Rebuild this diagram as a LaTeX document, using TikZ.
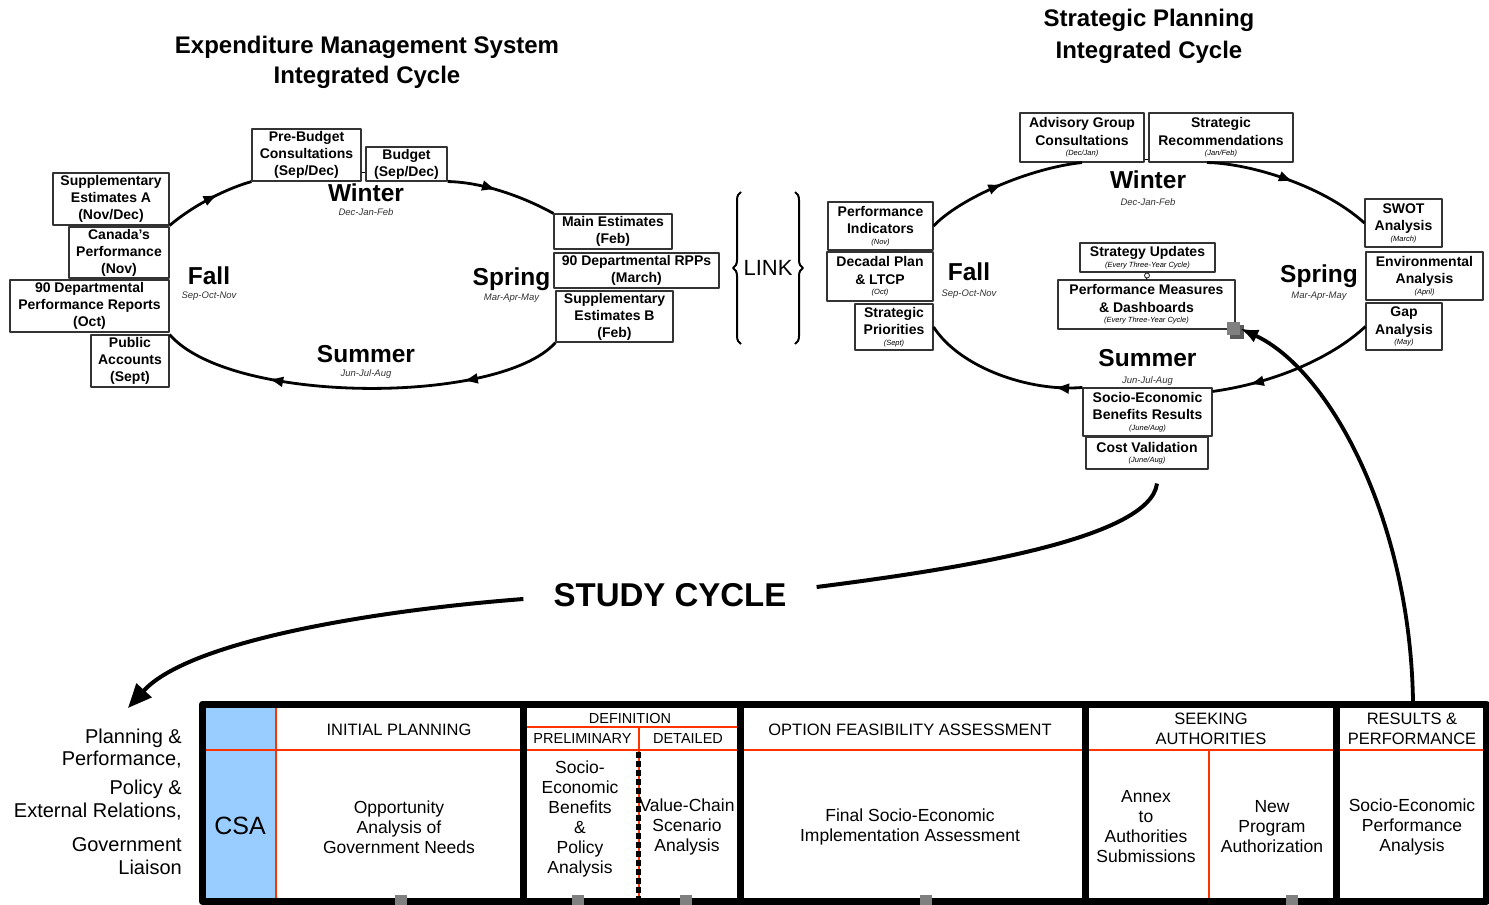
\documentclass[tikz,border=0pt]{standalone}
\usepackage{fontspec}
\setmainfont{Liberation Sans}
\usetikzlibrary{arrows.meta,decorations.markings,decorations.pathreplacing}
\definecolor{redln}{RGB}{255,51,0}
\definecolor{csablue}{RGB}{153,204,255}
\definecolor{sqgray}{RGB}{128,128,128}
\definecolor{sqdark}{RGB}{90,90,90}
\newcommand{\fsz}[2]{\fontsize{#1}{#2}\selectfont}
\newcommand{\smit}[1]{{\fsz{7.5}{8}\itshape\mdseries #1}}
\begin{document}
\begin{tikzpicture}[x=1pt,y=-1pt,line join=round,
  bx/.style={draw=black!80,line width=1.1pt,fill=white,align=center,inner sep=0pt,font=\bfseries\fsz{14}{17}},
  rbx/.style={bx,font=\bfseries\fsz{14}{17.5}},
  wh/.style 2 args={minimum width=#1pt,minimum height=#2pt},
  season/.style={anchor=base,font=\bfseries\fsz{24.5}{26}},
  months/.style={anchor=base,font=\itshape\fsz{9.5}{10},text=black!80},
  ttl/.style={font=\bfseries\fsz{24}{30},align=center},
  cyc/.style={line width=2.8pt},
  arr/.style={decoration={markings,mark=at position #1 with {\arrow{Latex[length=15pt,width=11pt]}}},postaction={decorate}},
  arrtwo/.style 2 args={decoration={markings,mark=at position #1 with {\arrow{Latex[length=15pt,width=11pt]}},mark=at position #2 with {\arrow{Latex[length=15pt,width=11pt]}}},postaction={decorate}},
  hd/.style={align=center,inner sep=0pt,font=\fsz{16.5}{20}},
  hds/.style={align=center,inner sep=0pt,font=\fsz{14.5}{16}},
  bd/.style={align=center,inner sep=0pt,font=\fsz{17.5}{20}},
  side/.style={anchor=east,align=right,inner sep=0pt,font=\fsz{20}{22.5}},
  tabsep/.style={line width=7pt},
  redl/.style={draw=redln,line width=2pt},
  bigline/.style={line width=4pt},
]
\useasboundingbox (0,0) rectangle (1489,905);

% ---------- titles
\node[ttl] (t1) at (367,62) {Expenditure Management System\\Integrated Cycle};
\node[ttl,font=\bfseries\fsz{24}{32}] (t2) at (1149,36) {Strategic Planning\\Integrated Cycle};

% ---------- left cycle boxes
\node[bx,wh={109}{52}] (prebud) at (306.5,155) {Pre-Budget\\Consultations\\(Sep/Dec)};
\node[bx,wh={81}{34}] (budget) at (406.5,164) {Budget\\(Sep/Dec)};
\node[bx,wh={116}{52}] (supA) at (111,199) {Supplementary\\Estimates A\\(Nov/Dec)};
\node[bx,wh={100}{51}] (canada) at (119,252.5) {Canada's\\Performance\\(Nov)};
\node[bx,wh={159}{52}] (dpr) at (89.5,306) {90 Departmental\\Performance Reports\\(Oct)};
\node[bx,wh={78}{52}] (pubacc) at (130,361) {Public\\Accounts\\(Sept)};
\node[bx,wh={118}{35}] (mainest) at (613,231.5) {Main Estimates\\(Feb)};
\node[bx,wh={165}{35}] (rpp) at (636.5,270.5) {90 Departmental RPPs\\(March)};
\node[bx,wh={117}{51}] (supB) at (614.5,316.5) {Supplementary\\Estimates B\\(Feb)};

% ---------- right cycle boxes
\node[rbx,wh={124}{49}] (adv) at (1082,137.5) {Advisory Group\\Consultations\\[-7pt]\smit{(Dec/Jan)}};
\node[rbx,wh={144}{49}] (strec) at (1221,137.5) {Strategic\\Recommendations\\[-7pt]\smit{(Jan/Feb)}};
\node[rbx,wh={105}{48}] (perfind) at (880.5,226) {Performance\\Indicators\\[-7pt]\smit{(Nov)}};
\node[rbx,wh={106}{49}] (decadal) at (880,276.5) {Decadal Plan\\\& LTCP\\[-7pt]\smit{(Oct)}};
\node[rbx,wh={78}{46}] (stpri) at (894,327) {Strategic\\Priorities\\[-7pt]\smit{(Sept)}};
\node[rbx,wh={77}{48}] (swot) at (1403.5,223) {SWOT\\Analysis\\[-7pt]\smit{(March)}};
\node[rbx,wh={117}{48}] (env) at (1424.5,276) {Environmental\\Analysis\\[-7pt]\smit{(April)}};
\node[rbx,wh={76}{47}] (gap) at (1404,326.5) {Gap\\Analysis\\[-7pt]\smit{(May)}};
\node[rbx,wh={135}{29}] (stup) at (1147.5,257.5) {Strategy Updates\\[-7pt]\smit{(Every Three-Year Cycle)}};
\node[rbx,wh={177}{49}] (pm) at (1146.5,304.5) {Performance Measures\\\& Dashboards\\[-7pt]\smit{(Every Three-Year Cycle)}};
\node[rbx,wh={129}{48}] (seb) at (1147.5,412) {Socio-Economic\\Benefits Results\\[-7pt]\smit{(June/Aug)}};
\node[rbx,wh={122}{32}] (cv) at (1147,453) {Cost Validation\\[-7pt]\smit{(June/Aug)}};

% ---------- cycle arcs
\draw[cyc,arr=0.62] (supA.south east) .. controls (190,208) and (222,190) .. (prebud.south west);
\draw[cyc,arr=0.45] (budget.south east) .. controls (480,182) and (520,195) .. (mainest.north west);
\draw[cyc,arrtwo={0.25}{0.73}] (supB.south west) .. controls (500,405) and (230,405) .. (pubacc.north east);

\draw[cyc,arr=0.5] (perfind.east) .. controls (960,198) and (1030,168) .. (adv.south);
\draw[cyc,arr=0.52] ([xshift=-14pt]strec.south) .. controls (1245,163) and (1320,183) .. (swot.west);
\draw[cyc,arr=0.78] (gap.west) .. controls (1335,355) and (1280,382) .. ([yshift=-4pt]seb.north east);
\draw[cyc,arr=0.17] (seb.north west) .. controls (1030,392) and (960,368) .. (stpri.east);

% ---------- small connectors
\path (prebud.east) ++(0,17) coordinate (pbc);
\draw[line width=1pt] (pbc) -- (pbc -| budget.west);
\path (adv.east) ++(0,22) coordinate (avc);
\draw[line width=1pt] (avc) -- (avc -| strec.west);
\draw[line width=1pt] (stup.south) -- (pm.north);
\node[circle,draw=black!80,fill=white,inner sep=0pt,minimum size=5pt,line width=0.9pt] (ring) at (1147,275.5) {};

% ---------- season labels
\node[season] (lwin) at (366,201) {Winter};
\node[months] (lwinm) at (366,215) {Dec-Jan-Feb};
\node[season] (lfall) at (209,284) {Fall};
\node[months] (lfallm) at (209,298) {Sep-Oct-Nov};
\node[season] (lspr) at (511.5,285) {Spring};
\node[months] (lsprm) at (511.5,300) {Mar-Apr-May};
\node[season] (lsum) at (366,362) {Summer};
\node[months] (lsumm) at (366,376) {Jun-Jul-Aug};

\node[season] (rwin) at (1148,188) {Winter};
\node[months] (rwinm) at (1148,205) {Dec-Jan-Feb};
\node[season] (rfall) at (969,280) {Fall};
\node[months] (rfallm) at (969,296) {Sep-Oct-Nov};
\node[season] (rspr) at (1319,282) {Spring};
\node[months] (rsprm) at (1319,298) {Mar-Apr-May};
\node[season] (rsum) at (1147.5,366) {Summer};
\node[months] (rsumm) at (1147.5,383) {Jun-Jul-Aug};

% ---------- LINK
\node[font=\fsz{22}{24}] (link) at (768,268) {LINK};
\draw[line width=2pt,decorate,decoration={brace,amplitude=8pt}] (741,344) -- (741,192);
\draw[line width=2pt,decorate,decoration={brace,amplitude=8pt}] (795,192) -- (795,344);

% ---------- study cycle
\node[font=\bfseries\fsz{33}{36},inner xsep=30pt,inner ysep=0pt] (study) at (670,595) {STUDY CYCLE};
\coordinate (sce) at (128,708);
\draw[bigline] ([xshift=10pt,yshift=-14pt]cv.south) .. controls (1150,540) and (950,570) .. ([yshift=8pt]study.east);
\draw[bigline,-{Triangle[length=24pt,width=20pt]}] ([yshift=-4pt]study.west) .. controls (380,610) and (190,640) .. (sce);

% ---------- table
\fill[csablue] (206,708) rectangle (275,898);
\draw[redl] (206,749.5) -- (1484,749.5);
\draw[redl] (275.5,708) -- (275.5,898);
\draw[redl] (527,727) -- (737,727);
\draw[redl] (638.5,727) -- (638.5,898);
\draw[line width=5pt,dash pattern=on 6pt off 3pt] (638.5,752) -- (638.5,898);
\draw[redl] (1209,750) -- (1209,898);
\draw[tabsep] (523.5,704) -- (523.5,901);
\draw[tabsep] (740.5,704) -- (740.5,901);
\draw[tabsep] (1085,704) -- (1085,901);
\draw[tabsep] (1336.5,704) -- (1336.5,901);
\draw[tabsep] (202.5,704) rectangle (1486,901.5);
\foreach \tx in {401,578,686,926,1292} {\fill[sqgray] (\tx-6,895) rectangle (\tx+6,905);}

\node[hd] (hip) at (399,730) {INITIAL PLANNING};
\node[hds] (hdef) at (630,718) {DEFINITION};
\node[hds] (hpre) at (582.5,739) {PRELIMINARY};
\node[hds] (hdet) at (688,739) {DETAILED};
\node[hd] (hofa) at (910,730) {OPTION FEASIBILITY ASSESSMENT};
\node[hd] (hsa) at (1211,729) {SEEKING\\AUTHORITIES};
\node[hd] (hrp) at (1412,729) {RESULTS \&\\PERFORMANCE};

\node[bd,font=\fsz{25}{27}] (csa) at (240,826) {CSA};
\node[bd] (opp) at (399,827) {Opportunity\\Analysis of\\Government Needs};
\node[bd] (sebp) at (580,819) {Socio-\\Economic\\Benefits\\\&\\Policy\\Analysis};
\node[bd] (vcs) at (687,827) {Value-Chain\\Scenario\\Analysis};
\node[bd] (fse) at (910,827) {Final Socio-Economic\\Implementation Assessment};
\node[bd] (annex) at (1146,827) {Annex\\to\\Authorities\\Submissions};
\node[bd] (npa) at (1272,827) {New\\Program\\Authorization};
\node[bd] (sepa) at (1412,827) {Socio-Economic\\Performance\\Analysis};

\node[side] (lp1) at (182,748.5) {Planning \&\\Performance,};
\node[side] (lp2) at (182,800) {Policy \&\\External Relations,};
\node[side] (lp3) at (182,856) {Government\\Liaison};

% ---------- feedback arrow to performance measures
\fill[sqdark] (1230,325) rectangle (1244,339);
\node[fill=sqgray,inner sep=0pt,minimum size=13pt] (gsq) at (1233.5,328.5) {};
\coordinate (rtop) at (1413,701);
\draw[bigline,line width=3.8pt,-{Latex[length=18pt,width=14pt]}] (rtop) .. controls (1410,520) and (1330,370) .. (gsq.east);
\end{tikzpicture}
\end{document}
